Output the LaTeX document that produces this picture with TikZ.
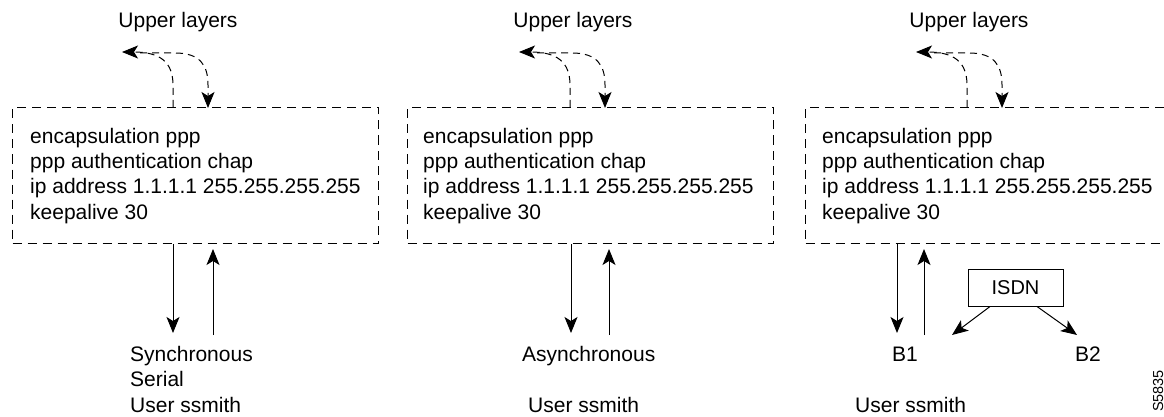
\documentclass[tikz,border=0pt]{standalone}
\usepackage{fontspec}
\setmainfont{Liberation Sans}
\usetikzlibrary{arrows.meta}
\begin{document}
\begin{tikzpicture}[x=1pt,y=-1pt,
  cfgbox/.style={draw, line width=1pt, dash pattern=on 9pt off 6pt, minimum width=366pt, minimum height=136pt, anchor=north west, inner sep=0},
  cfgtext/.style={anchor=north west, inner sep=0, align=left, font=\fontsize{21}{25.2}\selectfont},
  lbl/.style={font=\fontsize{21}{25.5}\selectfont, inner sep=0, align=left},
  arr/.style={line width=1pt, -{Stealth[length=16pt,width=13pt,inset=4pt]}},
  darr/.style={arr, dash pattern=on 7pt off 5pt}]
\useasboundingbox (0,0) rectangle (1164,417);

% boxes
\node[cfgbox] (box1) at (12,107) {};
\node[cfgbox] (box2) at (407,107) {};
\node[cfgbox] (box3) at (805,107) {};

\node[cfgtext] (t1) at (30,128) {encapsulation ppp\\ppp authentication chap\\ip address 1.1.1.1 255.255.255.255\\keepalive 30};
\node[cfgtext] (t2) at (423,128) {encapsulation ppp\\ppp authentication chap\\ip address 1.1.1.1 255.255.255.255\\keepalive 30};
\node[cfgtext] (t3) at (822,128) {encapsulation ppp\\ppp authentication chap\\ip address 1.1.1.1 255.255.255.255\\keepalive 30};

% upper layers labels
\node[lbl, anchor=base] (up1) at (178,28) {Upper layers};
\node[lbl, anchor=base] (up2) at (573,28) {Upper layers};
\node[lbl, anchor=base] (up3) at (969,28) {Upper layers};

% dashed arrows to/from upper layers
\foreach \n/\dx in {1/0,2/397,3/794}{
  \coordinate (ua\n) at ({173+\dx},85);
  \coordinate (ub\n) at ({208+\dx},85);
  \draw[darr] (box\n.north -| ua\n) -- (ua\n) .. controls ({173+\dx},62) and ({160+\dx},52) .. ({122+\dx},52);
  \draw[darr] ({140+\dx},53) -- ({175+\dx},53) .. controls ({200+\dx},53) and ({208+\dx},65) .. (ub\n) -- ([yshift=-1pt]box\n.north -| ub\n);
}

% bottom arrows
\coordinate (d1) at (173,333); \coordinate (u1) at (213,335);
\coordinate (d2) at (571,333); \coordinate (u2) at (609,335);
\coordinate (d3) at (897,333); \coordinate (u3) at (924,335);
\foreach \n in {1,2,3}{
  \draw[arr] (box\n.south -| d\n) -- (d\n);
  \draw[arr, shorten >=5pt] (u\n) -- (box\n.south -| u\n);
}

% bottom labels
\node[lbl, anchor=base west] (sync) at (130,412) {Synchronous\\Serial\\User ssmith};
\node[lbl, anchor=base west] (async) at (522,361) {Asynchronous};
\node[lbl, anchor=base west] (user2) at (528,412) {User ssmith};
\node[lbl, anchor=base west] (b1) at (892,361) {B1};
\node[lbl, anchor=base west] (b2) at (1075,361) {B2};
\node[lbl, anchor=base west] (user3) at (855,412) {User ssmith};

% ISDN
\node[draw, line width=1pt, minimum width=95pt, minimum height=37pt, inner sep=0, font=\fontsize{20}{24}\selectfont] (isdn) at (1015.5,287.5) {ISDN};
\coordinate (i1) at (952,335);
\coordinate (i2) at (1077,335);
\draw[arr] ([xshift=-25.5pt]isdn.south) -- (i1);
\draw[arr] ([xshift=21.5pt]isdn.south) -- (i2);

\node[rotate=90, inner sep=0, font=\fontsize{14.5}{17}\selectfont] (fig) at (1158,391) {S5835};
\end{tikzpicture}
\end{document}
